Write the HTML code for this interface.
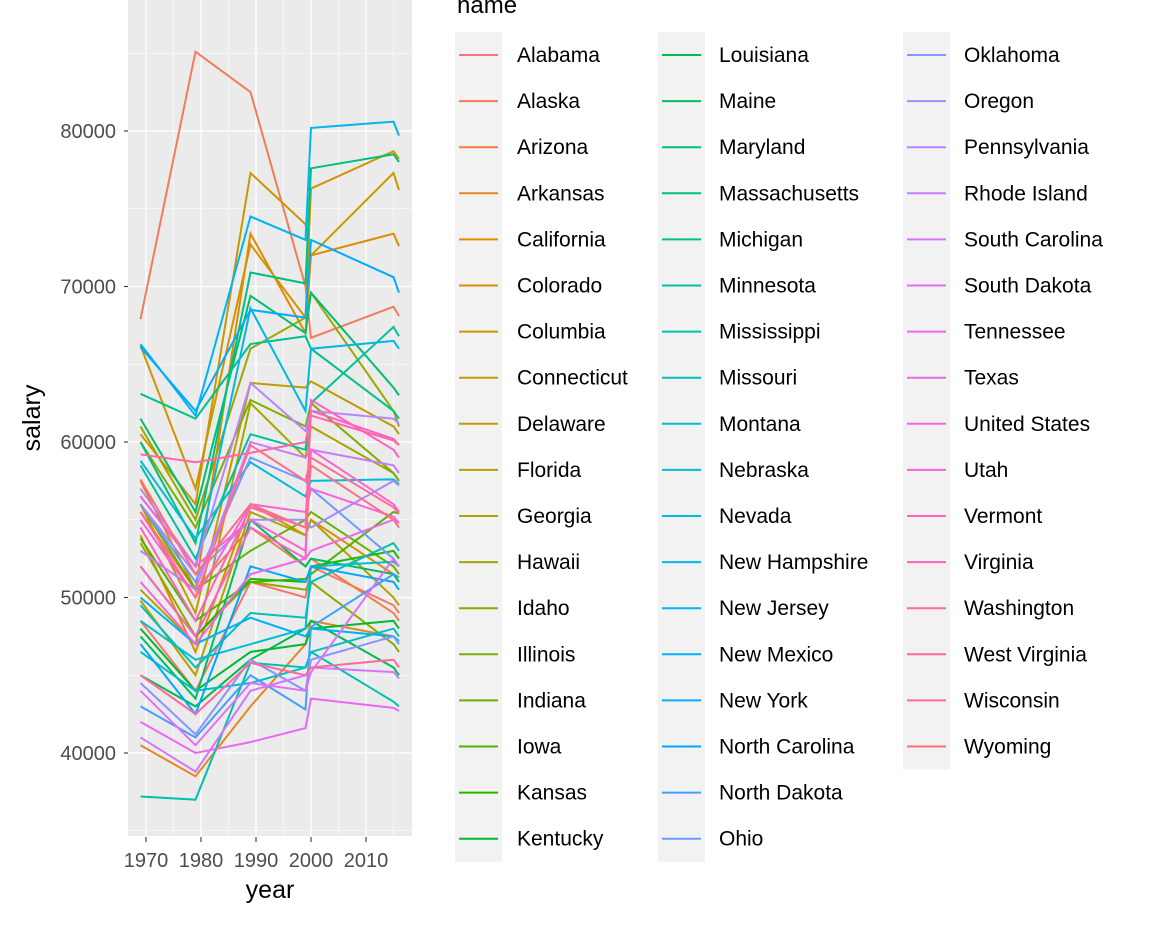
<!DOCTYPE html>
<html><head><meta charset="utf-8">
<style>
body{margin:0;background:#fff;font-family:"Liberation Sans",Arial,sans-serif;}
svg text{font-family:"Liberation Sans",Arial,sans-serif;}
</style></head>
<body>
<svg id="c" width="1152" height="921"></svg>
<script>
const years=[1969,1979,1989,1999,2000,2015,2016];
const yTicks=[40000,50000,60000,70000,80000];
const xTicks=[1970,1980,1990,2000,2010];
const states=["Alabama","Alaska","Arizona","Arkansas","California","Colorado","Columbia","Connecticut","Delaware","Florida","Georgia","Hawaii","Idaho","Illinois","Indiana","Iowa","Kansas","Kentucky","Louisiana","Maine","Maryland","Massachusetts","Michigan","Minnesota","Mississippi","Missouri","Montana","Nebraska","Nevada","New Hampshire","New Jersey","New Mexico","New York","North Carolina","North Dakota","Ohio","Oklahoma","Oregon","Pennsylvania","Rhode Island","South Carolina","South Dakota","Tennessee","Texas","United States","Utah","Vermont","Virginia","Washington","West Virginia","Wisconsin","Wyoming"];
const salaries=[
[48500,44000,51000,50000,52000,49500,49000],
[67900,85100,82500,70000,66700,68700,68100],
[55500,50500,54500,52000,52500,49000,48500],
[40500,38500,43000,47000,48500,47500,47000],
[57500,50500,73400,67000,72000,73400,72600],
[54000,46500,56000,54000,55000,51500,51000],
[66200,57000,72700,68000,76300,78700,78200],
[60500,56000,77300,74000,72000,77300,76200],
[56000,49000,63800,63500,63900,61000,60500],
[49800,45000,55500,54000,55000,50000,49500],
[50500,47000,62500,59000,61000,58000,57500],
[61000,55000,66000,68000,69600,62000,61000],
[53500,47500,51000,50500,51000,47000,46500],
[60000,54500,62700,61000,62500,58000,57500],
[56000,50500,53000,55000,55500,52000,51500],
[53800,48500,51000,51200,51500,55500,55400],
[52000,47500,51200,51000,52000,53000,52500],
[48000,44000,46500,47000,48000,48500,48000],
[45000,43000,46000,48000,48500,45500,45000],
[47500,43500,55000,52000,52500,51500,51000],
[61500,55500,69400,67000,69600,63500,63000],
[60000,53500,70900,70200,77600,78500,78000],
[63100,61500,66300,66800,66000,62000,61500],
[58500,52500,60500,59500,62500,67400,66800],
[37200,37000,45800,45500,46500,43300,43000],
[49500,45500,49000,48700,51000,53500,53000],
[46500,44000,44500,45500,46500,48000,47500],
[48500,46000,47000,48000,52000,52300,52000],
[58800,53800,58700,56500,57500,57600,57300],
[56500,52000,68600,62000,66000,66500,66000],
[66300,61700,74500,73000,80200,80600,79700],
[50000,47000,48700,47500,48000,47500,47200],
[66100,62000,68500,68000,73000,70600,69600],
[47000,42500,52000,51000,52000,51000,50500],
[43000,41000,45000,42800,48100,51500,51300],
[56000,51000,59000,57500,57000,52500,52000],
[44500,41200,46000,44000,46000,47500,47000],
[56000,51500,55000,55000,54500,57500,57200],
[57000,52000,63800,60700,62000,61500,61200],
[53000,50500,60000,59000,59500,58500,58000],
[41000,38800,44000,45000,45500,45200,44800],
[44000,40500,44500,44000,45200,52500,52000],
[42000,40000,40700,41600,43500,42900,42700],
[51000,47000,51500,52500,53000,55000,54800],
[55000,50000,56000,55500,57000,55200,54800],
[56500,52000,55000,53000,59500,56000,55500],
[52000,47500,54500,52500,62700,59500,59000],
[54500,48500,55800,54500,62000,60200,59800],
[59200,58700,59300,60000,61700,60100,59800],
[45000,42500,45800,45000,45500,46000,45500],
[55500,50000,59800,57500,59000,55800,55400],
[57600,51500,56000,54500,58500,55000,54500]
];
const NS="http://www.w3.org/2000/svg";
const svg=document.getElementById('c');
function mk(t,a,p){const e=document.createElementNS(NS,t);for(const k in a)e.setAttribute(k,a[k]);(p||svg).appendChild(e);return e;}
const PX0=128,PX1=412,PY0=0,PY1=836;
function xs(v){return 146+(v-1970)*5.5;}
function ys(v){return 753-(v-40000)*0.01555;}
function hcl(h,c,l){
  const hr=h*Math.PI/180,L=l,U=c*Math.cos(hr),V=c*Math.sin(hr);
  const Xn=95.047,Yn=100,Zn=108.883;
  const un=4*Xn/(Xn+15*Yn+3*Zn),vn=9*Yn/(Xn+15*Yn+3*Zn);
  const Y=L>8?Yn*Math.pow((L+16)/116,3):Yn*L/903.3;
  const u=U/(13*L)+un,v=V/(13*L)+vn;
  const X=9*Y*u/(4*v),Z=-X/3-5*Y+3*Y/v;
  let r=(3.240479*X-1.53715*Y-0.498535*Z)/100,g=(-0.969256*X+1.875992*Y+0.041556*Z)/100,b=(0.055648*X-0.204043*Y+1.057311*Z)/100;
  const gm=x=>{x=x>0.0031308?1.055*Math.pow(x,1/2.4)-0.055:12.92*x;return Math.round(Math.max(0,Math.min(1,x))*255);};
  return `rgb(${gm(r)},${gm(g)},${gm(b)})`;
}
const n=states.length;
const cols=states.map((s,i)=>hcl(15+360*i/n,100,65));
const panel=mk('rect',{x:PX0,y:PY0,width:PX1-PX0,height:PY1-PY0,fill:'#ebebeb'});


for(let v=35000;v<=85000;v+=10000){mk('line',{x1:PX0,x2:PX1,y1:ys(v),y2:ys(v),stroke:'#fff','stroke-width':0.6});}
for(let v=1965;v<=2015;v+=10){if(xs(v)>PX0)mk('line',{x1:xs(v),x2:xs(v),y1:PY0,y2:PY1,stroke:'#fff','stroke-width':0.6});}
yTicks.forEach(v=>{mk('line',{x1:PX0,x2:PX1,y1:ys(v),y2:ys(v),stroke:'#fff','stroke-width':1.3});
 mk('line',{x1:PX0-4,x2:PX0,y1:ys(v),y2:ys(v),stroke:'#333','stroke-width':1.1});
 const t=mk('text',{x:PX0-12,y:ys(v)+7,'text-anchor':'end','font-size':20,fill:'#4d4d4d'});t.textContent=v;
 });
xTicks.forEach(v=>{mk('line',{x1:xs(v),x2:xs(v),y1:PY0,y2:PY1,stroke:'#fff','stroke-width':1.3});
 mk('line',{x1:xs(v),x2:xs(v),y1:PY1+1,y2:PY1+6,stroke:'#333','stroke-width':1.1});
 const t=mk('text',{x:xs(v),y:PY1+31,'text-anchor':'middle','font-size':20,fill:'#4d4d4d'});t.textContent=v;
 });
salaries.forEach((row,i)=>{
  const p=mk('polyline',{points:row.map((v,j)=>xs(years[j])+','+ys(v)).join(' '),fill:'none',stroke:cols[i],'stroke-width':2});
  
  
});
let t=mk('text',{x:270,y:898,'text-anchor':'middle','font-size':25,fill:'#000'});t.textContent='year';

t=mk('text',{x:0,y:0,'text-anchor':'middle','font-size':25,fill:'#000',transform:'translate(40,418) rotate(-90)'});t.textContent='salary';

t=mk('text',{x:457,y:13,'font-size':24,fill:'#000'});t.textContent='name';

const lc=[{k:455,t:517},{k:658,t:719},{k:903,t:964}];
lc.forEach((c,ci)=>{const cnt=Math.min(18,n-ci*18);mk('rect',{x:c.k,y:32,width:47,height:cnt*46.1,fill:'#f2f2f2'});});
states.forEach((s,i)=>{
  const c=lc[Math.floor(i/18)],r=i%18,y=55+r*46.1;
  const g=mk('g',{});
  
  
  mk('line',{x1:c.k+4,x2:c.k+43,y1:y,y2:y,stroke:cols[i],'stroke-width':2},g);
  const tt=mk('text',{x:c.t,y:y+7,'font-size':21,fill:'#000'},g);tt.textContent=s;
});
</script>
</body></html>
